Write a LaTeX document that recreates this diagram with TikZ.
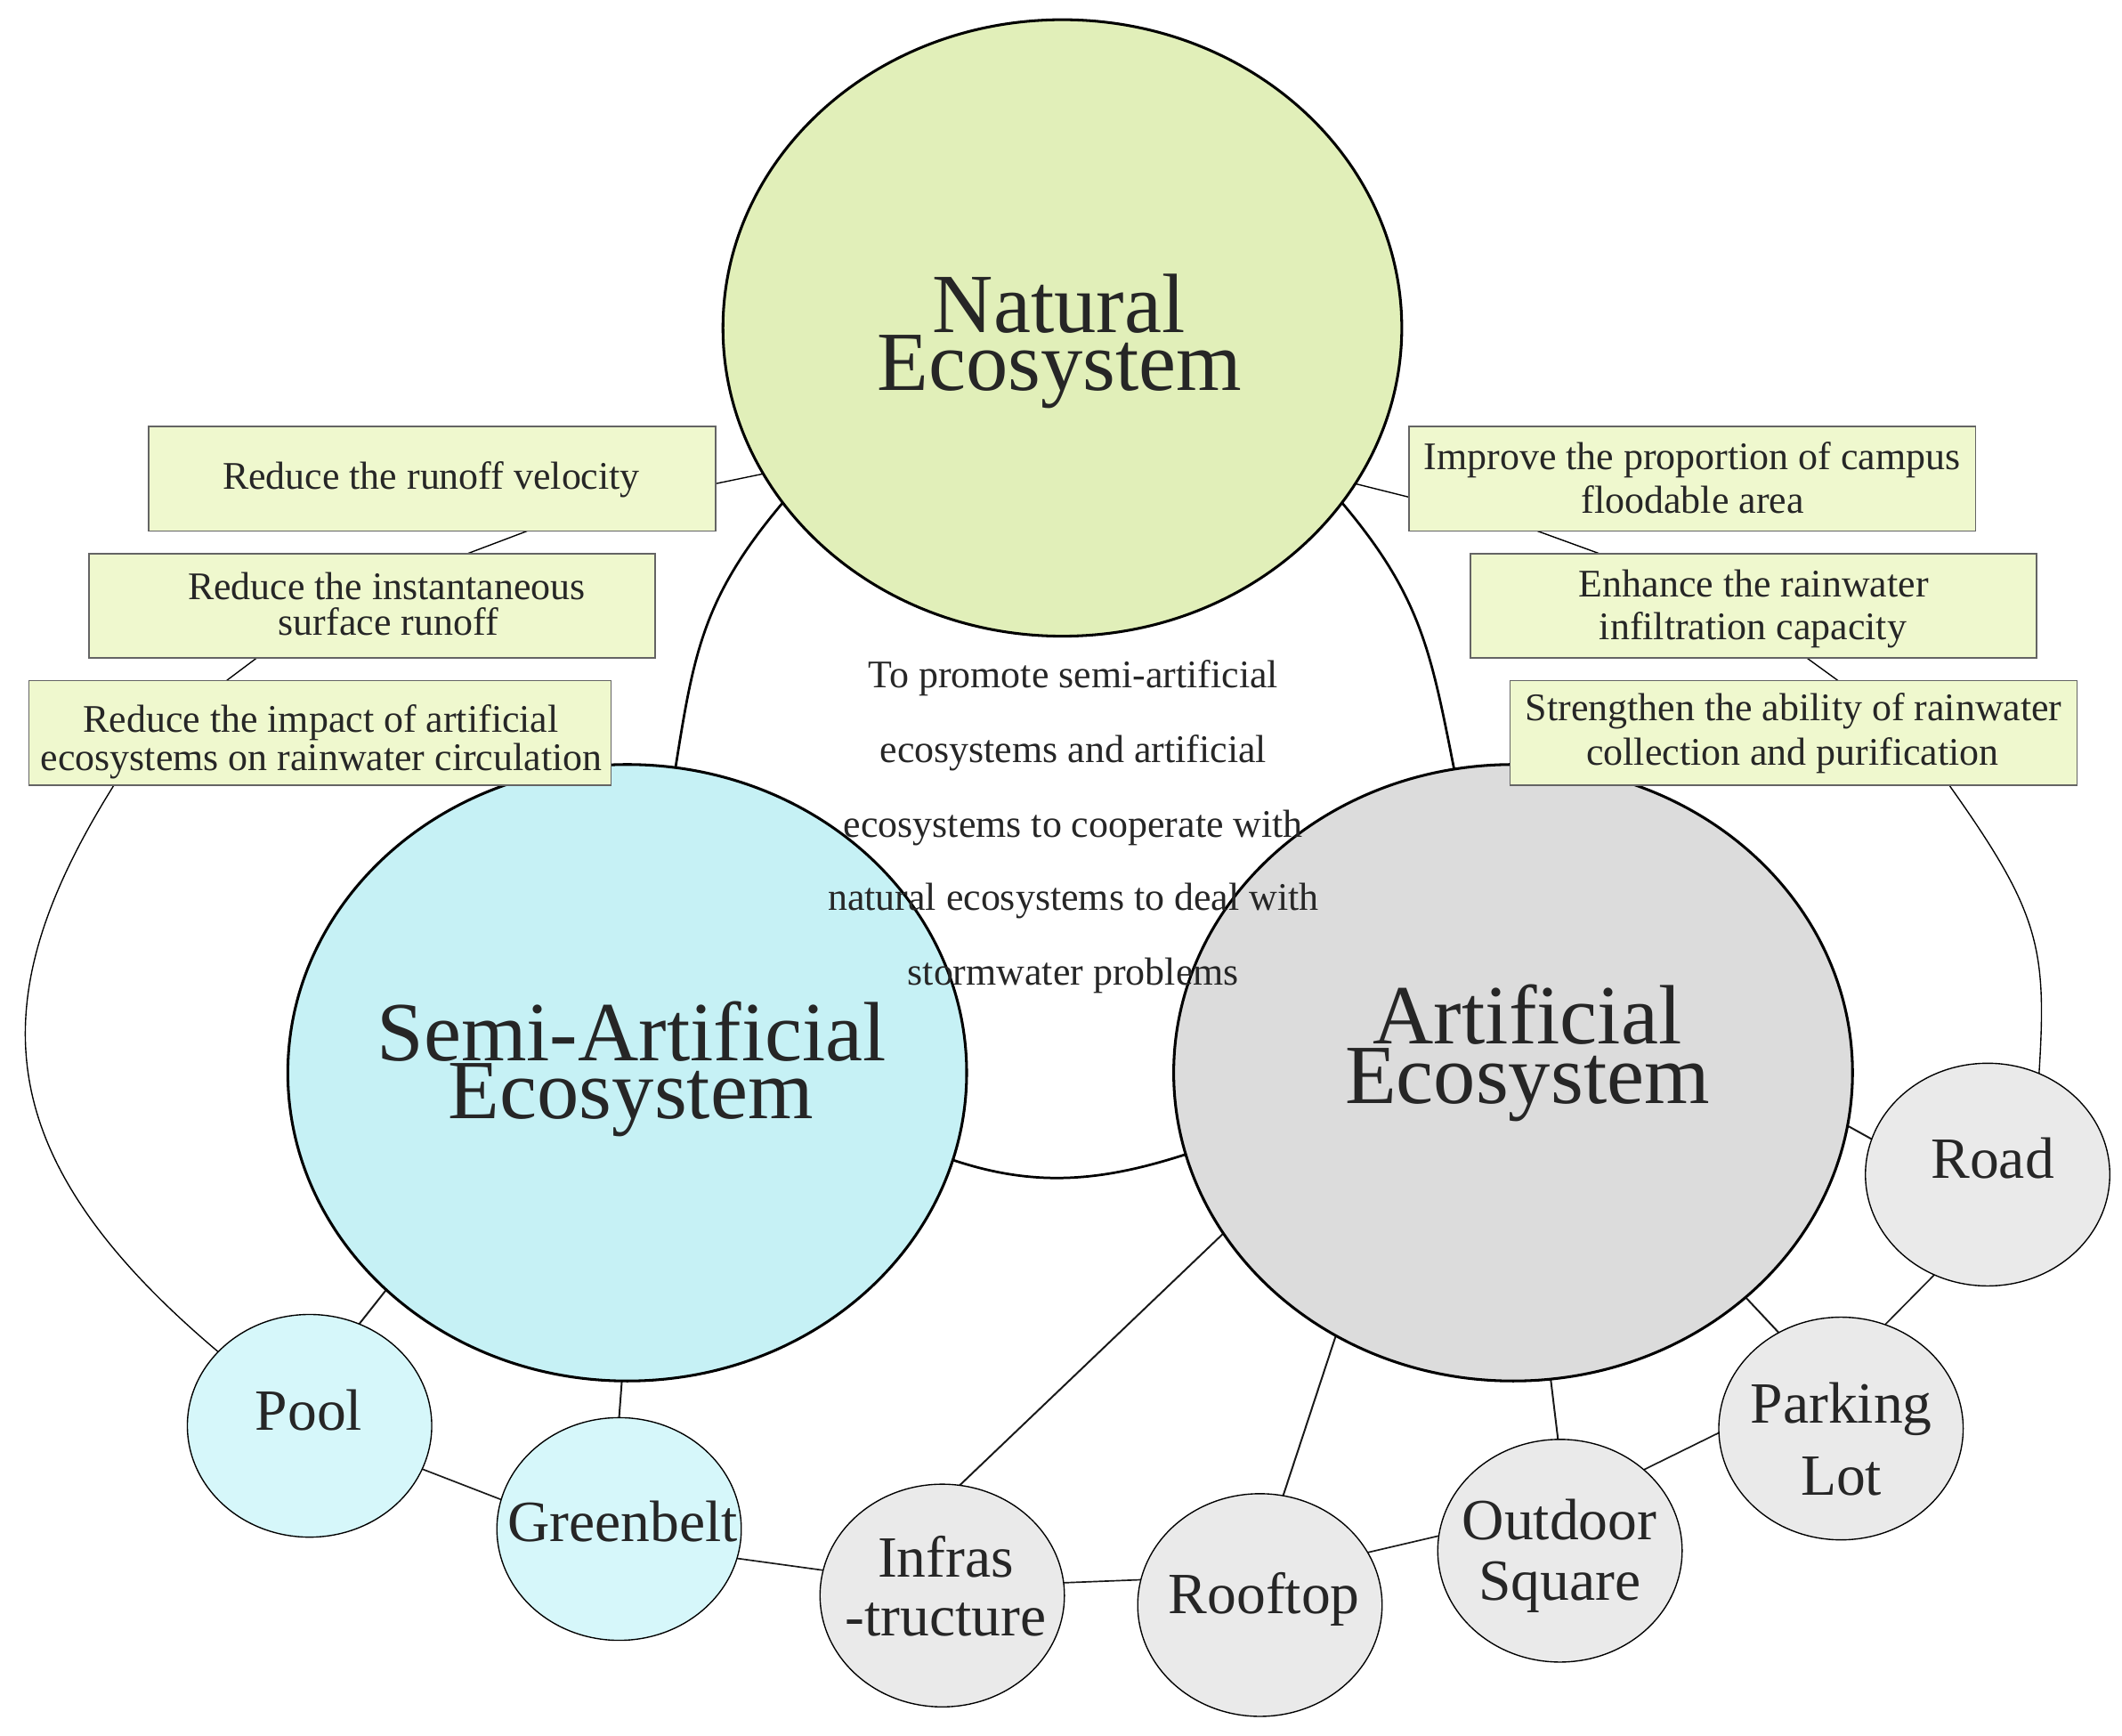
\documentclass[tikz,border=0pt]{standalone}
\usepackage{fontspec}
\setmainfont{Liberation Serif}
\usetikzlibrary{shapes.geometric,backgrounds}
\definecolor{natfill}{RGB}{225,239,185}
\definecolor{boxfill}{RGB}{239,248,206}
\definecolor{semifill}{RGB}{198,241,245}
\definecolor{semismall}{RGB}{214,247,250}
\definecolor{artfill}{RGB}{220,220,220}
\definecolor{artsmall}{RGB}{234,234,234}
\definecolor{txt}{RGB}{38,38,38}
\definecolor{boxline}{RGB}{100,100,100}
\begin{document}
\begin{tikzpicture}[x=1pt,y=-1pt,
 bigell/.style={ellipse, draw=black, line width=2pt, minimum width=500pt, minimum height=454pt, inner sep=0pt, outer sep=0pt},
 smallell/.style={ellipse, draw=black, line width=0.9pt, minimum width=180pt, minimum height=164pt, inner sep=0pt, outer sep=0pt},
 infobox/.style={rectangle, draw=boxline, fill=boxfill, line width=1pt, inner sep=0pt, outer sep=0pt, minimum height=77pt},
 bigtxt/.style={anchor=base, inner sep=0pt, text=txt, font=\fontsize{62pt}{62pt}\selectfont},
 smalltxt/.style={anchor=base, inner sep=0pt, text=txt, font=\fontsize{43pt}{43pt}\selectfont},
 boxtxt/.style={anchor=base, inner sep=0pt, text=txt, font=\fontsize{28.8pt}{28.8pt}\selectfont},
 bigarc/.style={line width=1.8pt, draw=black},
 link/.style={line width=1.3pt, draw=black!90},
 chainline/.style={line width=1.1pt, draw=black!90},
 thinline/.style={line width=0.9pt, draw=black},
]
\useasboundingbox (0,0) rectangle (1563,1278);

% big ecosystems
\node[bigell, fill=natfill] (nat) at (782.5,241.5) {};
\node[bigell, fill=semifill] (semi) at (462,790) {};
\node[bigell, fill=artfill] (art) at (1114.5,790) {};

% small nodes
\node[smallell, fill=semismall] (pool) at (228,1050) {};
\node[smallell, fill=semismall] (green) at (456,1126) {};
\node[smallell, fill=artsmall] (infra) at (694,1175) {};
\node[smallell, fill=artsmall] (roof) at (928,1182) {};
\node[smallell, fill=artsmall] (outdoor) at (1149,1142) {};
\node[smallell, fill=artsmall] (park) at (1356,1052) {};
\node[smallell, fill=artsmall] (road) at (1464,865) {};

% boxes
\node[infobox, minimum width=417.5pt] (L1) at (318.25,352.6) {};
\node[infobox, minimum width=417.1pt] (L2) at (274.15,446.15) {};
\node[infobox, minimum width=428.6pt] (L3) at (235.7,539.6) {};
\node[infobox, minimum width=417.2pt] (R1) at (1246.4,352.6) {};
\node[infobox, minimum width=417pt] (R2) at (1291.5,446.15) {};
\node[infobox, minimum width=417.6pt] (R3) at (1321.2,539.85) {};

\begin{pgfonlayer}{background}
% arcs between the three ecosystems
\draw[bigarc] (nat.212.9) .. controls (518.2,439.4) and (511.1,479.9) .. (semi.81.9);
\draw[bigarc] (nat.-32.9) .. controls (1046.8,439.4) and (1053.9,479.9) .. (art.101);
\draw[bigarc] (semi.-15.4) .. controls (762.7,874.6) and (811,870.2) .. (art.194.2);
% box chains
\draw[thinline] ([yshift=-3.6pt]L1.east) -- (nat.206.5);
\draw[thinline] ([xshift=70pt]L1.south) -- ([xshift=70.3pt]L2.north);
\draw[thinline] ([xshift=-85.2pt]L2.south) -- ([xshift=-68.7pt]L3.north);
\draw[thinline] ([xshift=-151.7pt]L3.south) .. controls (-14.6,735.5) and (-11.3,850.4) .. (pool.141);
\draw[thinline] ([yshift=-13.5pt]R1.west) -- (nat.-28.3);
\draw[thinline] ([xshift=-113.9pt]R1.south) -- ([xshift=-113.5pt]R2.north);
\draw[thinline] ([xshift=39.5pt]R2.south) -- ([xshift=32.8pt]R3.north);
\draw[thinline] ([xshift=114.6pt]R3.south) .. controls (1502.6,672.4) and (1507.7,697.9) .. (road.63.7);
% children
\draw[link] (semi.222) -- (pool.64.2);
\draw[link] (semi.-91.4) -- (green.90);
\draw[link] (art.209.3) -- (infra.81.8);
\draw[link] (art.-124) -- (roof.78.8);
\draw[link] (art.-83.2) -- (outdoor.91.6);
\draw[link] (art.-44.7) -- (park.123.9);
\draw[link] (art.-9.9) -- (road.163);
% ring of small nodes
\draw[chainline] (pool.-21.4) -- (green.166.2);
\draw[chainline] (green.-14.5) -- (infra.168.9);
\draw[chainline] (infra.6.7) -- (roof.168.9);
\draw[chainline] (roof.26) -- (outdoor.173.4);
\draw[chainline] (outdoor.44) -- (park.182.5);
\draw[chainline] (park.67.9) -- (road.-118.8);
\end{pgfonlayer}

% labels of big nodes
\node[bigtxt] (natA) at (780,244.6) {Natural};
\node[bigtxt] (natB) at (780.5,287.3) {Ecosystem};
\node[bigtxt] (semiA) at (465.3,781.3) {Semi-Artificial};
\node[bigtxt] (semiB) at (464.7,823.9) {Ecosystem};
\node[bigtxt] (artA) at (1125,768.8) {Artificial};
\node[bigtxt] (artB) at (1125,812.5) {Ecosystem};

% labels of small nodes
\node[smalltxt] (poolT) at (227.5,1053.1) {Pool};
\node[smalltxt] (greenT) at (458.5,1135.1) {Greenbelt};
\node[smalltxt] (infraA) at (696.6,1161.7) {Infras};
\node[smalltxt] (infraB) at (696.6,1205) {-tructure};
\node[smalltxt] (roofT) at (931.1,1188.4) {Rooftop};
\node[smalltxt] (outA) at (1148.7,1134.2) {Outdoor};
\node[smalltxt] (outB) at (1148.7,1178.3) {Square};
\node[smalltxt] (parkA) at (1356.2,1048) {Parking};
\node[smalltxt] (parkB) at (1356.2,1101.4) {Lot};
\node[smalltxt] (roadT) at (1467.7,867.6) {Road};

% box texts
\node[boxtxt] (L1a) at (317.6,360.1) {Reduce the runoff velocity};
\node[boxtxt] (L2a) at (284.7,441.5) {Reduce the instantaneous};
\node[boxtxt] (L2b) at (286,467.7) {surface runoff};
\node[boxtxt] (L3a) at (236.3,539.4) {Reduce the impact of artificial};
\node[boxtxt] (L3b) at (236.7,567.1) {ecosystems on rainwater circulation};
\node[boxtxt] (R1a) at (1246.4,345.7) {Improve the proportion of campus};
\node[boxtxt] (R1b) at (1246.8,378.1) {floodable area};
\node[boxtxt] (R2a) at (1291.7,439.3) {Enhance the rainwater};
\node[boxtxt] (R2b) at (1291.2,471) {infiltration capacity};
\node[boxtxt] (R3a) at (1321.2,530.6) {Strengthen the ability of rainwater};
\node[boxtxt] (R3b) at (1320.4,563.4) {collection and purification};

% central statement
\node[boxtxt] (c1) at (790.5,506.7) {To promote semi-artificial};
\node[boxtxt] (c2) at (790.5,561.4) {ecosystems and artificial};
\node[boxtxt] (c3) at (790.5,616.4) {ecosystems to cooperate with};
\node[boxtxt] (c4) at (790.5,670.6) {natural ecosystems to deal with};
\node[boxtxt] (c5) at (790.5,725.3) {stormwater problems};
\end{tikzpicture}
\end{document}
